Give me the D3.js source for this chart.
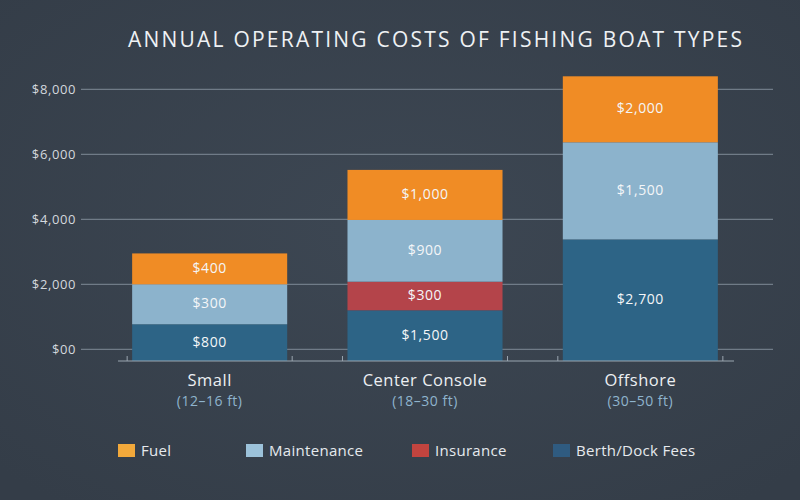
<!DOCTYPE html>
<html><head><meta charset="utf-8">
<script src="https://cdn.jsdelivr.net/npm/d3@7"></script>
<style>
html,body{margin:0;padding:0;background:#3a4450;}
svg{display:block;}
text{font-family:"Open Sans","Noto Sans",sans-serif;}
</style></head>
<body>
<svg id="chart" width="800" height="500"></svg>
<script>
// Data
const categories = ["Small", "Center Console", "Offshore"];
const subLabels = ["(12–16 ft)", "(18–30 ft)", "(30–50 ft)"];
const seriesNames = ["Berth/Dock Fees", "Insurance", "Maintenance", "Fuel"];
// segment heights as drawn against the axis
const berthValues = [770, 1200, 3380];
const insuranceValues = [0, 880, 0];
const maintenanceValues = [1230, 1900, 2990];
const fuelValues = [950, 1540, 2030];
// labels printed on the segments
const berthLabels = ["$800", "$1,500", "$2,700"];
const insuranceLabels = ["", "$300", ""];
const maintenanceLabels = ["$300", "$900", "$1,500"];
const fuelLabels = ["$400", "$1,000", "$2,000"];
const yTicks = [0, 2000, 4000, 6000, 8000];
const yTickLabels = ["$00", "$2,000", "$4,000", "$6,000", "$8,000"];
const legendNames = ["Fuel", "Maintenance", "Insurance", "Berth/Dock Fees"];

const barColors = {"Fuel":"#f08c25","Maintenance":"#8cb3cc","Insurance":"#b4444a","Berth/Dock Fees":"#2d6486"};
const legendColors = {"Fuel":"#f2a93b","Maintenance":"#9cc2da","Insurance":"#c2443f","Berth/Dock Fees":"#2f5b80"};

const svg = d3.select("#chart");
const defs = svg.append("defs");
const rg = defs.append("radialGradient").attr("id","bg").attr("cx","50%").attr("cy","45%").attr("r","70%");
rg.append("stop").attr("offset","0%").attr("stop-color","#3d4753");
rg.append("stop").attr("offset","100%").attr("stop-color","#343d48");
svg.append("rect").attr("width",800).attr("height",500).attr("fill","url(#bg)");

const plotBottom = 361;
const x = d3.scaleBand().domain(categories).range([102, 748]).paddingInner(0.28).paddingOuter(0.14);
const y = d3.scaleLinear().domain([0, 8000]).range([349.3, 89.3]);

// title
svg.append("text").attr("x", 435).attr("y", 47).attr("text-anchor","middle")
  .attr("fill","#eef1f4").attr("font-size", 21).attr("textLength", 614).attr("lengthAdjust","spacing")
  .text("ANNUAL OPERATING COSTS OF FISHING BOAT TYPES");

// grid
const grid = svg.append("g");
grid.selectAll("line").data(yTicks).join("line")
  .attr("x1", 81).attr("x2", 773)
  .attr("y1", d => y(d)).attr("y2", d => y(d))
  .attr("stroke", "#7f8a96").attr("stroke-width", 1);
grid.selectAll("text").data(yTicks).join("text")
  .attr("x", 76).attr("y", d => y(d)).attr("dy","0.35em")
  .attr("text-anchor","end").attr("fill","#d3d8de").attr("font-size", 13)
  .attr("letter-spacing", 0.6)
  .text((d,i) => yTickLabels[i]);

// stacked data
const table = categories.map((c,i) => ({
  cat: c,
  "Berth/Dock Fees": berthValues[i],
  "Insurance": insuranceValues[i],
  "Maintenance": maintenanceValues[i],
  "Fuel": fuelValues[i]
}));
const labelMap = {"Berth/Dock Fees": berthLabels, "Insurance": insuranceLabels, "Maintenance": maintenanceLabels, "Fuel": fuelLabels};
const stack = d3.stack().keys(seriesNames)(table);

const bars = svg.append("g");
stack.forEach(layer => {
  const key = layer.key;
  layer.forEach((d, i) => {
    if (d[1] - d[0] <= 0) return;
    const y0 = d[0] === 0 ? plotBottom : y(d[0]);
    const y1 = y(d[1]);
    bars.append("rect")
      .attr("x", x(categories[i])).attr("width", x.bandwidth())
      .attr("y", y1).attr("height", y0 - y1)
      .attr("fill", barColors[key]);
    bars.append("text")
      .attr("x", x(categories[i]) + x.bandwidth()/2)
      .attr("y", (y0 + y1)/2 - 1).attr("dy","0.35em")
      .attr("text-anchor","middle").attr("fill","#f4f6f8").attr("font-size", 14)
      .attr("letter-spacing", 0.6)
      .text(labelMap[key][i]);
  });
});

// x axis line and ticks
const ax = svg.append("g");
ax.append("line").attr("x1", 118).attr("x2", 734).attr("y1", plotBottom).attr("y2", plotBottom)
  .attr("stroke","#9aa5b0").attr("stroke-width",1.2);
categories.forEach(c => {
  [x(c) - 5, x(c) + x.bandwidth() + 5].forEach(tx => {
    ax.append("line").attr("x1", tx).attr("x2", tx).attr("y1", plotBottom - 5).attr("y2", plotBottom)
      .attr("stroke","#9aa5b0").attr("stroke-width",1);
  });
});
ax.selectAll("text.cat").data(categories).join("text").attr("class","cat")
  .attr("x", d => x(d) + x.bandwidth()/2).attr("y", 386)
  .attr("text-anchor","middle").attr("fill","#eceff2").attr("font-size", 16.5)
  .attr("letter-spacing", 0.5)
  .text(d => d);
ax.selectAll("text.sub").data(categories).join("text").attr("class","sub")
  .attr("x", d => x(d) + x.bandwidth()/2).attr("y", 406)
  .attr("text-anchor","middle").attr("fill","#8fb4cd").attr("font-size", 14)
  .attr("letter-spacing", 0.5)
  .text((d,i) => subLabels[i]);

// legend
const legendX = [118, 246, 412, 553];
const lg = svg.append("g");
legendNames.forEach((n, i) => {
  lg.append("rect").attr("x", legendX[i]).attr("y", 444).attr("width", 17).attr("height", 13)
    .attr("fill", legendColors[n]);
  lg.append("text").attr("x", legendX[i] + 23).attr("y", 450.5).attr("dy","0.35em")
    .attr("fill","#e6eaee").attr("font-size", 15).attr("letter-spacing", 0.3).text(n);
});
</script>
</body></html>
